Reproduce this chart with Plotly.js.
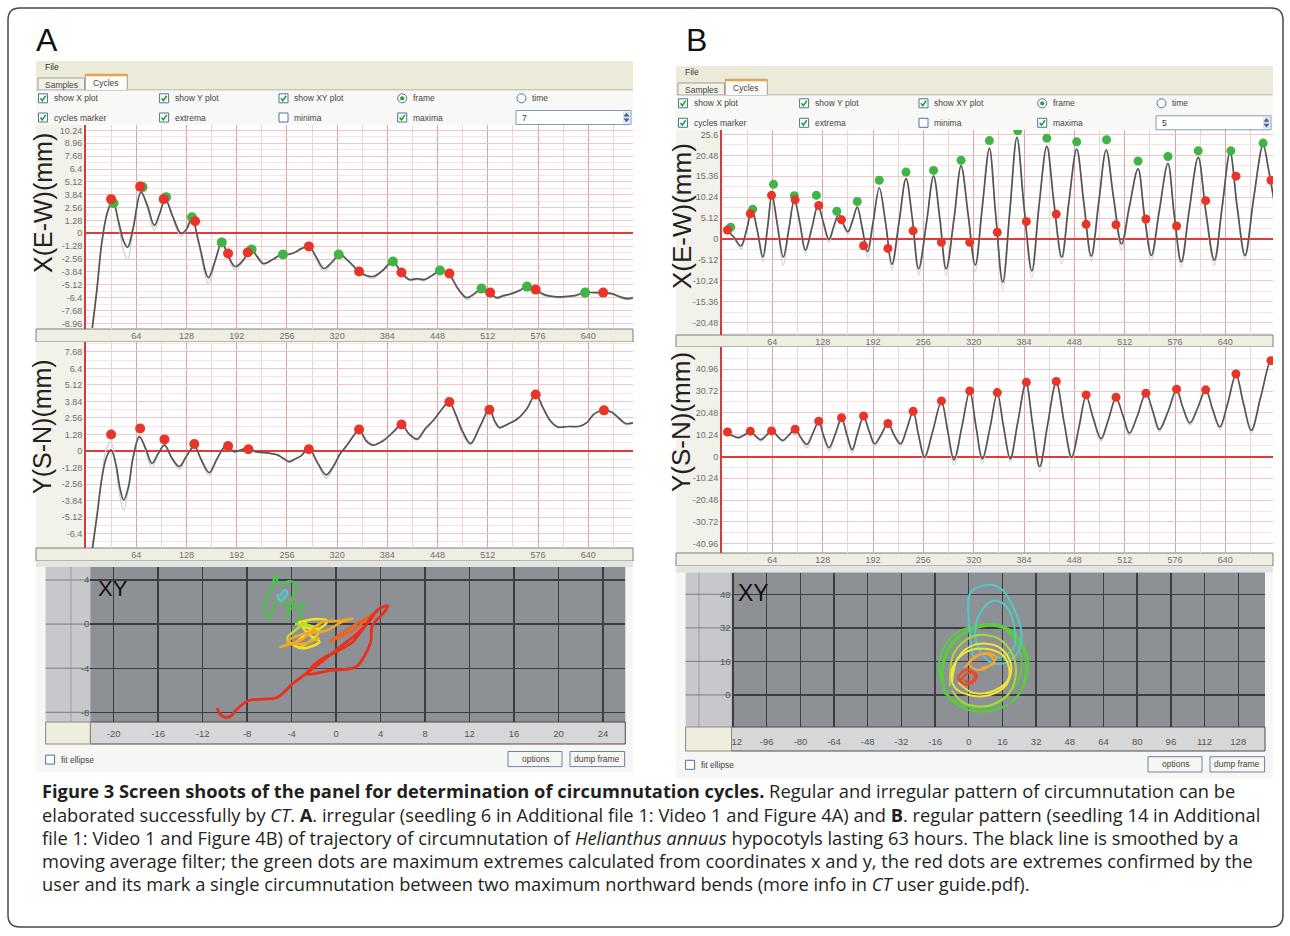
<!DOCTYPE html>
<html><head><meta charset="utf-8">
<script src="https://cdn.plot.ly/plotly-3.0.1.min.js"></script>
<style>html,body{margin:0;padding:0;background:#fff;}#chart{width:1290px;height:936px;}</style>
</head><body><div id="chart"></div>
<script>
// ================= DATA =================
const timeTickVals = [64,128,192,256,320,384,448,512,576,640];
const timeTickText = ["64","128","192","256","320","384","448","512","576","640"];
const aXTickVals = [10.24,8.96,7.68,6.4,5.12,3.84,2.56,1.28,0,-1.28,-2.56,-3.84,-5.12,-6.4,-7.68,-8.96];
const aYTickVals = [7.68,6.4,5.12,3.84,2.56,1.28,0,-1.28,-2.56,-3.84,-5.12,-6.4];
const bXTickVals = [25.6,20.48,15.36,10.24,5.12,0,-5.12,-10.24,-15.36,-20.48];
const bYTickVals = [40.96,30.72,20.48,10.24,0,-10.24,-20.48,-30.72,-40.96];
const xyATickX = [-20,-16,-12,-8,-4,0,4,8,12,16,20,24];
const xyATickY = [4,0,-4,-8];
const xyBTickX = [-112,-96,-80,-64,-48,-32,-16,0,16,32,48,64,80,96,112,128];
const xyBTickY = [48,32,16,0];

// Panel A, X(E-W) vs frame
const aXFrames = [8,14,20,27,34,42,48,53,60,70,78,87,94,101,110,121,128,135,144,156,165,173,181,190,200,210,218,226,238,249,258,266,275,284,293,303,313,323,335,348,357,366,378,391,401,412,422,431,441,452,463,474,485,495,504,515,523,532,542,552,562,572,584,597,610,622,636,648,659,670,680,690,697];
const aXSmooth = [-9.4,-5.5,-1.0,2.0,3.2,1.0,-0.8,-1.4,0.5,4.1,2.8,0.8,2.0,3.4,1.8,0.0,0.4,1.5,-1.0,-4.4,-2.6,-0.9,-2.2,-3.3,-2.7,-1.6,-2.3,-3.0,-2.6,-2.1,-2.1,-1.9,-1.5,-1.3,-2.3,-3.5,-2.9,-2.1,-2.8,-3.8,-4.2,-4.3,-3.7,-2.8,-3.8,-4.6,-4.5,-4.6,-4.2,-3.7,-4.1,-5.5,-6.4,-6.0,-5.5,-5.9,-6.4,-6.2,-6.0,-5.7,-5.3,-5.6,-6.1,-6.3,-6.3,-6.2,-5.9,-5.9,-5.9,-6.0,-6.3,-6.5,-6.4];
const aXRaw    = [-9.6,-5.7,-1.0,2.2,3.3,0.6,-1.8,-2.6,0.3,4.2,2.6,0.3,2.0,3.5,1.6,-0.3,0.4,1.6,-1.3,-5.0,-2.8,-0.9,-2.4,-3.6,-2.8,-1.6,-2.4,-3.1,-2.6,-2.1,-2.1,-1.9,-1.5,-1.3,-2.5,-3.8,-3.0,-2.1,-2.9,-3.9,-4.3,-4.5,-3.7,-2.8,-3.9,-4.7,-4.6,-4.7,-4.2,-3.7,-4.2,-5.6,-6.6,-6.1,-5.5,-6.0,-6.5,-6.3,-6.0,-5.7,-5.3,-5.7,-6.2,-6.4,-6.4,-6.3,-5.9,-5.9,-6.0,-6.1,-6.4,-6.6,-6.5];
const aXGreenF = [35,72,102,135,173,211,251,322,391,451,504,562,636];
const aXGreenV = [3.0,4.6,3.6,1.6,-0.9,-1.6,-2.1,-2.1,-2.8,-3.7,-5.5,-5.3,-5.9];
const aXRedF   = [32,69,99,139,181,206,284,348,402,463,515,573,659];
const aXRedV   = [3.4,4.65,3.4,1.2,-2.0,-1.9,-1.3,-3.8,-3.9,-4.0,-5.9,-5.6,-5.9];

// Panel A, Y(S-N) vs frame
const aYFrames = [8,14,20,26,32,38,43,48,54,60,68,76,84,92,100,110,119,128,138,147,157,167,178,189,198,206,216,227,236,244,251,259,267,274,284,295,306,316,324,332,340,348,357,366,373,380,392,402,412,422,432,443,453,463,470,480,490,502,514,521,527,538,550,562,573,582,591,601,614,629,638,648,660,670,680,688,697];
const aYSmooth = [-7.6,-5.0,-2.2,-0.5,0.08,-1.0,-2.8,-3.8,-2.8,-0.5,1.1,0.2,-0.95,-0.2,0.46,-0.6,-1.2,-0.4,0.38,-0.7,-1.67,-0.6,0.38,-0.05,0.1,0.23,-0.05,-0.13,-0.2,-0.3,-0.55,-0.82,-0.6,-0.38,0.2,-0.9,-1.85,-1.1,-0.2,0.4,1.1,1.67,0.8,0.46,0.6,0.85,1.5,2.05,1.3,0.92,1.7,2.4,3.2,3.8,3.0,1.5,0.59,1.9,3.2,2.3,1.82,2.1,2.5,3.3,4.38,3.4,2.4,1.87,1.9,1.92,2.2,2.9,3.15,3.0,2.5,2.13,2.18];
const aYRaw    = [-7.8,-5.2,-2.0,0.2,0.7,-1.2,-3.4,-4.6,-3.0,-0.5,1.2,0.0,-1.3,-0.2,0.5,-0.7,-1.4,-0.4,0.4,-0.8,-1.9,-0.6,0.4,-0.1,0.1,0.2,-0.1,-0.15,-0.2,-0.3,-0.6,-0.9,-0.6,-0.4,0.2,-1.0,-2.1,-1.2,-0.2,0.4,1.1,1.7,0.7,0.4,0.6,0.85,1.5,2.1,1.2,0.85,1.7,2.4,3.2,3.9,2.9,1.3,0.45,1.9,3.3,2.2,1.75,2.1,2.5,3.3,4.45,3.3,2.3,1.8,1.9,1.9,2.2,2.9,3.2,3.0,2.4,2.05,2.15];
const aYRedF = [32,69,100,138,181,207,284,348,402,463,514,573,660];
const aYRedV = [1.28,1.75,0.9,0.54,0.38,0.13,0.13,1.67,2.05,3.8,3.2,4.38,3.15];

// Panel B, X(E-W) vs frame
const bXFrames = [6,15,24,31,38,45,52,58,63.5,70,78,85,92,99,106,114,122,129,136,142,148.5,154,160,166,172,178,185,192,200,208,216,225,234,242,250,260,269,277,285,295,304,313,322,331,340,348,357,366,375,384,394,403,413,422,432,441,451,460,469.5,479,488.5,498,508,518,529,537,546,556,567,575,584,594,605.5,615,626,636,646,655,665,676,688,695,702];
const bXSmooth = [2.2,0.5,-1.7,2.0,7.2,2.0,-4.4,3.0,10.9,4.0,-4.4,2.5,9.6,4.0,-2.7,2.5,8.2,4.0,-0.1,3.0,6.1,3.8,1.8,4.5,7.8,3.0,-3.1,4.0,12.5,4.0,-6.2,4.0,14.8,5.0,-7.3,4.0,15.4,5.0,-7.3,5.0,17.9,6.0,-6.4,8.0,22.2,6.0,-10.6,7.0,24.9,8.0,-7.8,8.0,22.7,9.0,-4.4,9.0,22.0,9.0,-4.2,9.0,21.8,10.0,-1.2,8.0,17.2,6.0,-4.0,7.0,18.5,6.0,-5.6,7.0,20.0,7.0,-5.2,8.0,21.2,8.0,-4.0,10.0,23.0,17.0,9.2];
const bXRaw    = [2.2,0.3,-2.4,2.0,7.4,1.6,-5.6,2.8,11.1,3.6,-6.4,2.2,9.8,3.6,-3.5,2.3,8.4,3.6,-0.8,2.8,6.3,3.5,1.2,4.3,8.0,2.6,-4.5,3.6,12.7,3.4,-7.5,3.6,15.0,4.4,-8.8,3.6,15.6,4.4,-8.8,4.4,18.1,5.4,-8.0,7.4,22.4,5.4,-12.5,6.4,25.1,7.4,-9.5,7.4,22.9,8.4,-6.0,8.4,22.2,8.4,-5.5,8.4,22.0,9.4,-2.8,7.4,17.4,5.4,-5.2,6.4,18.7,5.4,-7.0,6.4,20.2,6.4,-6.5,7.4,21.4,7.4,-5.0,9.4,23.2,16.8,9.0];
const bXGreenF = [11,39,65.5,92,120,146,172,200,234,269,304,340,376,413,451,489,529,567,605.5,647,688];
const bXGreenV = [2.9,7.3,13.4,10.6,10.7,6.8,9.2,14.4,16.4,16.8,19.3,24.1,26.5,24.7,23.8,24.3,19.1,20.2,21.6,21.6,23.5];
const bRedF    = [7,36,63,93,123,152,180,211,243,279,315,350,387,425,463,501,539,578,615,653.5,698];
const bXRedV   = [2.2,6.2,10.7,9.6,8.2,4.7,-1.65,-2.3,2.0,-0.8,-0.8,1.65,4.3,6.1,3.6,3.5,4.9,3.2,9.4,15.4,14.4];

// Panel B, Y(S-N) vs frame
const bYFrames = [6,13,21,28,36,43,49.5,56,63.5,70,77,85,93,100,108,115,123,129,136,144,152,159,165.5,172,180,187,194,202,211,219,227,235,243,250,257.5,268,279,287,295,305,315,323,331,341,350,358,366.5,376,386.5,395,404,414,425,435,444.5,454,463,472,482,491,501,510,518,528,539,548,556,567,578,586,595,605,615,624,633,643,653.5,663,673,685,698,702];
const bYSmooth = [11.2,9.8,8.9,10.0,11.5,9.5,7.9,9.8,12.3,9.8,7.6,10.0,13.1,9.0,5.7,10.5,16.3,10.0,4.1,10.5,17.9,10.0,3.2,10.5,18.6,12.0,6.0,10.0,15.5,10.0,6.0,13.0,21.0,10.0,-0.3,12.0,25.7,12.0,-1.6,14.0,30.5,14.0,-1.1,14.0,29.7,14.0,-1.1,16.0,34.5,15.0,-4.7,15.0,34.8,16.0,-0.3,14.0,28.4,18.0,8.4,17.0,27.4,19.0,11.0,19.0,29.7,21.0,12.7,21.0,31.3,23.0,15.8,23.0,31.3,22.0,13.9,25.0,38.4,25.0,12.3,28.0,45.2,43.0];
const bYRaw    = [11.2,9.6,8.4,10.0,11.7,9.3,7.2,9.6,12.5,9.6,7.0,9.8,13.3,8.6,4.0,10.2,16.5,9.4,2.5,10.2,18.1,9.4,1.8,10.2,18.8,11.6,5.0,9.8,15.7,9.6,5.0,12.6,21.2,9.4,-1.5,11.6,25.9,11.4,-4.0,13.4,30.7,13.4,-3.0,13.4,29.9,13.4,-2.5,15.4,34.7,14.2,-7.0,14.4,35.0,15.4,-1.8,13.6,28.6,17.6,7.2,16.6,27.6,18.6,9.8,18.6,29.9,20.6,11.5,20.6,31.5,22.6,14.6,22.6,31.5,21.6,12.6,24.6,38.6,24.6,11.0,27.6,45.4,43.0];
const bYRedV   = [11.5,11.9,12.0,12.8,16.6,18.2,19.0,15.5,21.2,26.1,30.8,30.0,34.8,35.2,28.9,27.8,29.7,31.6,31.3,38.7,45.0];

// Panel A, XY trajectory (x = E-W, y = S-N), split by time colour
const xyARedX   = [-10.7,-10.4,-9.9,-9.4,-9.1,-7.9,-6.5,-5.3,-3.9,-2.7,-0.95,0.45,1.85,2.9,3.8,4.65,4.3,3.25,3.1,2.0,1.5,-0.5,-2.6,-1.5,0.0,1.5,2.5,3.4];
const xyARedY   = [-7.6,-8.2,-8.45,-8.3,-7.9,-6.95,-6.8,-6.65,-5.4,-4.5,-3.13,-2.0,-0.9,0.15,1.35,1.64,1.05,-0.15,-1.65,-3.7,-4.0,-4.2,-4.5,-3.3,-2.5,-1.6,-0.3,1.0];
const xyAOredX  = [3.4,2.6,1.6,0.5,-0.6,0.4,1.6,2.8,3.8];
const xyAOredY  = [1.0,0.3,-0.5,-1.1,-1.6,-0.9,-0.1,0.6,1.2];
const xyAOrangeX = [-5.1,-3.0,-1.3,0.45,1.5,0.45,-0.95,-3.0,-4.4,-3.0,-1.5];
const xyAOrangeY = [-2.1,-1.34,0.15,0.3,0.5,0.15,-0.6,-0.9,-1.6,-1.8,-1.2];
const xyAYellowX = [-3.4,-2.0,-0.8,-1.6,-3.0,-2.3,-1.5,-3.0,-3.7,-2.6,-1.4];
const xyAYellowY = [0.15,0.45,0.3,-0.45,-0.3,-1.05,-1.6,-2.2,-1.9,-0.8,0.1];
const xyAYgX = [-3.7,-2.3,-1.5,-2.3,-3.4,-4.4,-3.6,-2.6];
const xyAYgY = [0.0,-0.15,-0.6,-1.5,-2.1,-1.3,-0.5,0.2];
const xyAGreenX = [-3.7,-3.0,-3.4,-2.9,-3.4,-4.1,-3.9,-3.4,-4.1,-5.1,-5.5,-5.7,-6.2,-6.4,-6.0,-5.7,-5.1,-4.4,-4.3,-4.6];
const xyAGreenY = [0.3,0.75,1.2,1.6,1.9,1.35,2.5,3.4,3.9,3.6,4.5,3.4,2.5,1.35,0.45,1.35,2.2,1.6,0.75,0.3];
const xyACyanX = [-5.1,-4.6,-4.4,-5.0,-5.3];
const xyACyanY = [2.5,3.1,2.8,2.1,2.7];

// Panel B, XY trajectory
const xyBRedX = [-4,-1,2,4,2,-2,-5,-3,0,3,1,-2];
const xyBRedY = [7,10,11,9,6,5,8,11,12,9,6,7];
const xyBOrangeX = [-2,2,8,13,10,4,0,4,10,12,6];
const xyBOrangeY = [13,17,20,18,14,12,15,19,19,15,13];
const xyBYellowX = [-8,-5,3,14,20,18,10,0,-7,-8,-2,8,17,19,12,2,-5];
const xyBYellowY = [6,18,24,23,15,5,0,0,4,12,20,22,18,8,2,1,6];
const xyBYgX = [-9,-7,2,14,22,20,10,-2,-8];
const xyBYgY = [4,20,28,27,16,2,-5,-4,2];
const xyBGreenX = [-11,-12,-6,4,16,25,27,22,12,0,-9,-13,-10,-2,10,21,28,26,18,6,-5,-12,-14,-8,4,16,24,24,14,2,-8];
const xyBGreenY = [0,14,26,32,32,24,10,-2,-7,-7,-2,8,22,30,34,30,18,4,-5,-8,-5,4,16,28,33,32,22,8,-4,-6,-2];
const xyBCyanX = [2,0,1,10.5,16,22,25,24,19,12,6,3,6,12,18,22,21,15,10];
const xyBCyanY = [18,35,49,52.5,50,40,30,22,16,15,20,30,40,45,42,30,22,18,20];

const captionLines = [
  "<b>Figure 3 Screen shoots of the panel for determination of circumnutation cycles.</b> Regular and irregular pattern of circumnutation can be",
  "elaborated successfully by <i>CT</i>. <b>A</b>. irregular (seedling 6 in Additional file 1: Video 1 and Figure 4A) and <b>B</b>. regular pattern (seedling 14 in Additional",
  "file 1: Video 1 and Figure 4B) of trajectory of circumnutation of <i>Helianthus annuus</i> hypocotyls lasting 63 hours. The black line is smoothed by a",
  "moving average filter; the green dots are maximum extremes calculated from coordinates x and y, the red dots are extremes confirmed by the",
  "user and its mark a single circumnutation between two maximum northward bends (more info in <i>CT</i> user guide.pdf)."
];

// ================= LAYOUT HELPERS =================
const W = 1290, H = 936;
const px = x => x / W;
const py = y => 1 - y / H;
const P = (x, y) => px(x).toFixed(5) + ',' + py(y).toFixed(5);
const UI = 'Liberation Sans, Arial, sans-serif';
const shapes = [];
const ann = [];

function rect(x0, y0, x1, y1, fill, line, lw, layer) {
  shapes.push({type:'rect', xref:'paper', yref:'paper', x0:px(x0), x1:px(x1), y0:py(y1), y1:py(y0),
    fillcolor: fill || 'rgba(0,0,0,0)', line:{color: line || 'rgba(0,0,0,0)', width: lw || 0}, layer: layer || 'below'});
}
function circ(x0, y0, x1, y1, fill, line, lw, layer) {
  shapes.push({type:'circle', xref:'paper', yref:'paper', x0:px(x0), x1:px(x1), y0:py(y1), y1:py(y0),
    fillcolor: fill, line:{color: line || 'rgba(0,0,0,0)', width: lw || 0}, layer: layer || 'above'});
}
function pathS(pts, close, fill, line, lw, layer) {
  shapes.push({type:'path', xref:'paper', yref:'paper',
    path: 'M' + pts.map(p => P(p[0], p[1])).join(' L') + (close ? ' Z' : ''),
    fillcolor: fill || 'rgba(0,0,0,0)', line:{color: line || 'rgba(0,0,0,0)', width: lw || 0}, layer: layer || 'above'});
}
function txt(x, y, s, size, color, xa, extra) {
  ann.push(Object.assign({xref:'paper', yref:'paper', x:px(x), y:py(y), text:s, showarrow:false,
    xanchor: xa || 'left', yanchor:'middle', font:{family:UI, size:size, color:color || '#333'}}, extra || {}));
}
function checkbox(x, yc, checked, label) {
  rect(x, yc - 4.5, x + 9, yc + 4.5, '#ffffff', '#4a74a0', 1, 'above');
  if (checked) pathS([[x + 2, yc], [x + 3.8, yc + 2.4], [x + 7.2, yc - 2.6]], false, null, '#25a025', 1.6);
  if (label) txt(x + 13, yc, label, 8.5, '#444');
}
function radio(x, yc, on, label) {
  circ(x, yc - 4.5, x + 9, yc + 4.5, '#ffffff', '#4a74a0', 1);
  if (on) circ(x + 2.6, yc - 1.9, x + 6.4, yc + 1.9, '#2fa02f', '#2fa02f', 0.5);
  txt(x + 13, yc, label, 8.5, '#444');
}
function button(x0, y0, x1, y1, label) {
  rect(x0, y0, x1, y1, '#f6f6f2', '#6f84a4', 1, 'above');
  txt((x0 + x1) / 2, (y0 + y1) / 2, label, 8.5, '#444', 'center');
}
function header(x0, x1, top, r1, r2, spinVal) {
  rect(x0, top, x1, top + 12, '#ecead9');
  txt(x0 + 7, top + 6, 'File', 8.5, '#333');
  rect(x0, top + 12, x1, top + 29, '#ecead9');
  rect(x0, top + 28.5, x1, top + 29.5, '#a5a597');
  rect(x0 + 2, top + 17, x0 + 48.5, top + 29, '#f3f2ea', '#a0a090', 1);
  txt(x0 + 25, top + 23.5, 'Samples', 8.5, '#444', 'center');
  rect(x0 + 49.3, top + 13.3, x0 + 91.3, top + 29.5, '#fcfcfa', '#a0a090', 1);
  rect(x0 + 49.3, top + 13.3, x0 + 91.3, top + 15.3, '#f3a333');
  txt(x0 + 70.3, top + 22, 'Cycles', 8.5, '#444', 'center');
  rect(x0, top + 29.5, x1, r2 + 8, '#f8f8f7');
  const c = [x0 + 2.5, x0 + 123.6, x0 + 243, x0 + 361.7, x0 + 481];
  checkbox(c[0], r1, true, 'show X plot');
  checkbox(c[1], r1, true, 'show Y plot');
  checkbox(c[2], r1, true, 'show XY plot');
  radio(c[3], r1, true, 'frame');
  radio(c[4], r1, false, 'time');
  checkbox(c[0], r2, true, 'cycles marker');
  checkbox(c[1], r2, true, 'extrema');
  checkbox(c[2], r2, false, 'minima');
  checkbox(c[3], r2, true, 'maxima');
  rect(x0 + 480, r2 - 7, x1 - 2, r2 + 7, '#ffffff', '#7f9db9', 1, 'above');
  txt(x0 + 484, r2, spinVal, 8.5, '#333');
  rect(x1 - 10, r2 - 6, x1 - 3, r2 + 6, '#dce6f6', null, 0, 'above');
  pathS([[x1 - 9, r2 - 1.2], [x1 - 6.5, r2 - 4.5], [x1 - 4, r2 - 1.2]], true, '#4d6185', '#4d6185', 0.5);
  pathS([[x1 - 9, r2 + 1.2], [x1 - 6.5, r2 + 4.5], [x1 - 4, r2 + 1.2]], true, '#4d6185', '#4d6185', 0.5);
}
function timeStrip(x0, xAxis, x1, yTop, yBot, barBot) {
  rect(x0, yTop, xAxis, yBot, '#f3f2ea');
  rect(xAxis, yTop, x1, yBot, '#ffffff');
  rect(x0, yBot, x1, barBot, '#efeee3', '#7d7d7d', 1);
}
function xyBox(mx0, dx0, dx1, y0, y1, barBot, vline) {
  rect(mx0, y0, dx0, y1, '#c7c8cb');
  rect(dx0, y0, dx1, y1, '#8d9095');
  rect(dx0, y1, dx1, barBot, '#d6d7d9', '#4a4a4a', 1);
  rect(mx0, y1, dx0, barBot, '#eeedde', '#8a8a80', 1, 'above');
  rect(vline - 0.5, y0, vline + 0.5, y1, '#9c9da0');
}

// ---------- outer border ----------
(function () {
  const x0 = 8, y0 = 8, x1 = 1283, y1 = 927, r = 12;
  shapes.push({type:'path', xref:'paper', yref:'paper', layer:'below',
    path: `M${P(x0 + r, y0)} L${P(x1 - r, y0)} Q${P(x1, y0)} ${P(x1, y0 + r)} L${P(x1, y1 - r)} Q${P(x1, y1)} ${P(x1 - r, y1)} L${P(x0 + r, y1)} Q${P(x0, y1)} ${P(x0, y1 - r)} L${P(x0, y0 + r)} Q${P(x0, y0)} ${P(x0 + r, y0)} Z`,
    fillcolor:'rgba(0,0,0,0)', line:{color:'#4a4a4a', width:1.5}});
})();

// ---------- Panel A chrome ----------
rect(36, 61, 633, 772, '#f6f6f5');
header(36, 633, 61, 98.3, 117.5, '7');
timeStrip(36, 86, 633, 125, 329, 342);
timeStrip(36, 86, 633, 342, 548, 561);
rect(36, 561, 633, 567, '#e4e4e2');
xyBox(45.6, 90.3, 625.3, 567, 722, 744, 71);
checkbox(45.6, 759.6, false, 'fit ellipse');
button(508, 751.5, 562, 766.6, 'options');
button(570, 751.5, 624.6, 766.6, 'dump frame');

// ---------- Panel B chrome ----------
rect(676, 66, 1273, 778, '#f6f6f5');
header(676, 1273, 66, 103.3, 122.8, '5');
timeStrip(676, 722, 1273, 130, 335, 347);
timeStrip(676, 722, 1273, 347, 553, 566);
rect(676, 566, 1273, 572.5, '#e4e4e2');
xyBox(685.6, 731.5, 1265, 572.5, 727, 751, 699);
checkbox(685.6, 764.8, false, 'fit ellipse');
button(1148, 756.7, 1202, 772, 'options');
button(1210, 756.7, 1264.6, 772, 'dump frame');

xyATickY.forEach(v => shapes.push({type:'line', xref:'paper', yref:'y3', x0:px(45.6), x1:px(90.3), y0:v, y1:v, line:{color:'#7d7e82', width:1}, layer:'below'}));
xyBTickY.forEach(v => shapes.push({type:'line', xref:'paper', yref:'y6', x0:px(685.6), x1:px(731.5), y0:v, y1:v, line:{color:'#7d7e82', width:1}, layer:'below'}));

// ---------- Texts ----------
txt(47, 40, 'A', 32, '#111', 'center');
txt(696, 40, 'B', 32, '#111', 'center');
txt(43, 203, 'X(E-W)(mm)', 25, '#222', 'center', {textangle:-90});
txt(42, 427, 'Y(S-N)(mm)', 25, '#222', 'center', {textangle:-90});
txt(682, 216, 'X(E-W)(mm)', 26, '#222', 'center', {textangle:-90});
txt(681, 422, 'Y(S-N)(mm)', 26, '#222', 'center', {textangle:-90});
txt(96, 588, 'XY', 22, '#111', 'left');
txt(736, 593, 'XY', 23, '#111', 'left');

const capY = [790, 814, 837, 860, 883];
captionLines.forEach((s, i) => ann.push({xref:'paper', yref:'paper', x:px(40), y:py(capY[i]), text:s, showarrow:false,
  xanchor:'left', yanchor:'middle', align:'left', font:{family:'Open Sans, sans-serif', size:18.3, color:'#231f20'}}));

// ================= AXES =================
const tickF = {family:UI, size:9, color:'#6e6e6e'};
function timeX(domain, anchor, rng) {
  return {domain:domain, range:rng, anchor:anchor, tickmode:'array', tickvals:timeTickVals, ticktext:timeTickText,
    ticks:'', showgrid:true, gridcolor:'#dba3a3', gridwidth:1,
    minor:{tickmode:'linear', tick0:0, dtick:32, showgrid:true, gridcolor:'#f0d2d2', gridwidth:1, ticks:''},
    zeroline:false, showline:false, tickfont:tickF, fixedrange:true};
}
function timeY(domain, anchor, rng, vals, mdt) {
  return {domain:domain, range:rng, anchor:anchor, tickmode:'array', tickvals:vals, ticktext:vals.map(String),
    ticks:'', showgrid:true, gridcolor:'#f1c6c6', gridwidth:1,
    minor:{tickmode:'linear', tick0:0, dtick:mdt, showgrid:true, gridcolor:'#f9e4e4', gridwidth:1, ticks:''},
    zeroline:true, zerolinecolor:'#e23a3a', zerolinewidth:2, showline:true, linecolor:'#d23c3c', linewidth:2,
    tickfont:tickF, fixedrange:true};
}
function xyAx(domain, anchor, rng, vals, standoff) {
  const a = {domain:domain, range:rng, anchor:anchor, tickmode:'array', tickvals:vals, ticktext:vals.map(String),
    ticks:'', showgrid:true, gridcolor:'#3d3e40', gridwidth:1.4, zeroline:false, showline:false,
    tickfont:{family:UI, size:9.5, color:'#555'}, fixedrange:true};
  if (standoff) a.ticklabelstandoff = standoff;
  return a;
}

const layout = {
  width:W, height:H, margin:{l:0, r:0, t:0, b:0}, paper_bgcolor:'#ffffff', plot_bgcolor:'rgba(0,0,0,0)',
  showlegend:false, hovermode:false,
  xaxis:  timeX([px(86), px(633)], 'y', [0, 697]),
  yaxis:  timeY([py(329), py(125)], 'x', [-9.52, 10.78], aXTickVals, 0.64),
  xaxis2: timeX([px(86), px(633)], 'y2', [0, 697]),
  yaxis2: timeY([py(548), py(342)], 'x2', [-7.52, 8.45], aYTickVals, 0.64),
  xaxis3: xyAx([px(90.3), px(625.3)], 'y3', [-22.1, 26.0], xyATickX, 4),
  yaxis3: xyAx([py(722), py(567)], 'x3', [-8.88, 5.18], xyATickY),
  xaxis4: timeX([px(722), px(1273)], 'y4', [0, 700.6]),
  yaxis4: timeY([py(335), py(130)], 'x4', [-23.5, 26.7], bXTickVals, 2.56),
  xaxis5: timeX([px(722), px(1273)], 'y5', [0, 700.6]),
  yaxis5: timeY([py(553), py(347)], 'x5', [-45.3, 51.4], bYTickVals, 5.12),
  xaxis6: xyAx([px(731.5), px(1265)], 'y6', [-112.7, 140.7], xyBTickX, 7),
  yaxis6: xyAx([py(727), py(572.5)], 'x6', [-15.3, 58.4], xyBTickY),
  shapes:shapes, annotations:ann
};

// ================= TRACES =================
const GREEN = '#3fb447', RED = '#e8352a';
function line(x, y, xa, ya, color, w) {
  return {type:'scatter', mode:'lines', x:x, y:y, xaxis:xa, yaxis:ya, line:{color:color, width:w, shape:'spline', smoothing:1}};
}
function dots(x, y, xa, ya, color, s) {
  return {type:'scatter', mode:'markers', x:x, y:y, xaxis:xa, yaxis:ya, marker:{color:color, size:s, line:{width:0}}};
}
const traces = [
  line(aXFrames, aXRaw, 'x', 'y', '#cdcdcd', 1.2),
  line(aXFrames, aXSmooth, 'x', 'y', '#555555', 1.7),
  dots(aXGreenF, aXGreenV, 'x', 'y', GREEN, 10),
  dots(aXRedF, aXRedV, 'x', 'y', RED, 10),

  line(aYFrames, aYRaw, 'x2', 'y2', '#cdcdcd', 1.2),
  line(aYFrames, aYSmooth, 'x2', 'y2', '#555555', 1.7),
  dots(aYRedF, aYRedV, 'x2', 'y2', RED, 10),

  line(xyAGreenX, xyAGreenY, 'x3', 'y3', '#4cc24a', 2.5),
  line(xyACyanX, xyACyanY, 'x3', 'y3', '#55c8c4', 2.5),
  line(xyAYgX, xyAYgY, 'x3', 'y3', '#b5e02e', 2.5),
  line(xyAYellowX, xyAYellowY, 'x3', 'y3', '#f2e21e', 2.5),
  line(xyAOrangeX, xyAOrangeY, 'x3', 'y3', '#f5a623', 2.5),
  line(xyAOredX, xyAOredY, 'x3', 'y3', '#f06020', 2.5),
  line(xyARedX, xyARedY, 'x3', 'y3', '#e8301c', 2.8),

  line(bXFrames, bXRaw, 'x4', 'y4', '#cdcdcd', 1.2),
  line(bXFrames, bXSmooth, 'x4', 'y4', '#555555', 1.7),
  dots(bXGreenF, bXGreenV, 'x4', 'y4', GREEN, 9),
  dots(bRedF, bXRedV, 'x4', 'y4', RED, 9),

  line(bYFrames, bYRaw, 'x5', 'y5', '#cdcdcd', 1.2),
  line(bYFrames, bYSmooth, 'x5', 'y5', '#555555', 1.7),
  dots(bRedF, bYRedV, 'x5', 'y5', RED, 9),

  line(xyBGreenX, xyBGreenY, 'x6', 'y6', '#5cc843', 2),
  line(xyBCyanX, xyBCyanY, 'x6', 'y6', '#4fcac6', 2),
  line(xyBYgX, xyBYgY, 'x6', 'y6', '#a8d838', 2),
  line(xyBYellowX, xyBYellowY, 'x6', 'y6', '#eee43a', 2),
  line(xyBOrangeX, xyBOrangeY, 'x6', 'y6', '#f5a630', 2),
  line(xyBRedX, xyBRedY, 'x6', 'y6', '#ee4a22', 2.2)
];

Plotly.newPlot('chart', traces, layout, {staticPlot:true, displayModeBar:false});
</script>
</body></html>
